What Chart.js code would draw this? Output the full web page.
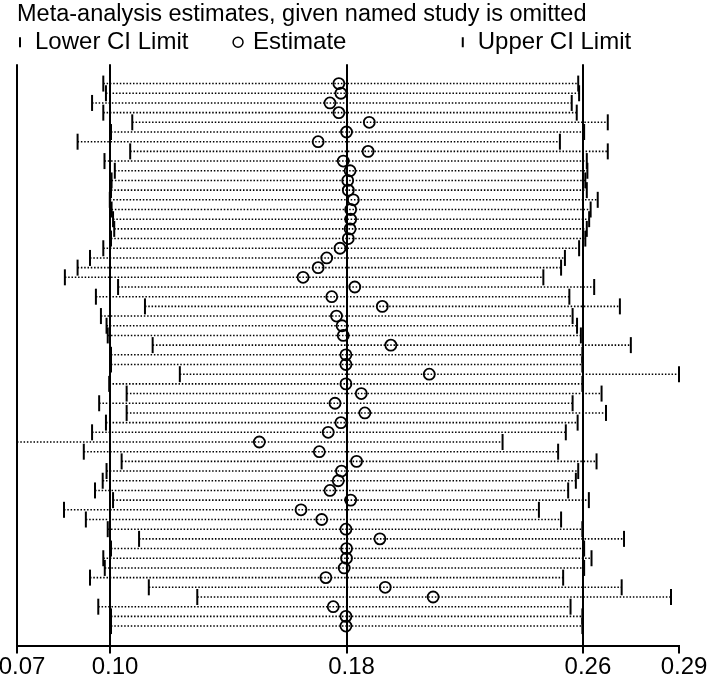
<!DOCTYPE html>
<html>
<head>
<meta charset="utf-8">
<script src="https://cdn.jsdelivr.net/npm/chart.js@4.4.1/dist/chart.umd.min.js"></script>
<style>
    body { margin: 0; background: #fff; }
    #wrap { width: 709px; height: 682px; }
</style>
</head>
<body>
<div id="wrap"><canvas id="chart"></canvas></div>
<script>
// one row per omitted study, top to bottom
const lowerCI = [
    0.0977, 0.0986, 0.0939, 0.0977, 0.1075, 0.1003, 0.0890, 0.1068, 0.0981, 0.1016,
    0.1005, 0.1003, 0.0999, 0.1005, 0.1010, 0.1014, 0.1003, 0.0977, 0.0932, 0.0890,
    0.0847, 0.1027, 0.0952, 0.1118, 0.0969, 0.0988, 0.0992, 0.1144, 0.1003, 0.1003,
    0.1236, 0.0997, 0.1056, 0.0963, 0.1056, 0.0986, 0.0939, 0.0685, 0.0911, 0.1039,
    0.0988, 0.0975, 0.0949, 0.1010, 0.0844, 0.0918, 0.0992, 0.1098, 0.1003, 0.0977,
    0.0982, 0.0932, 0.1131, 0.1295, 0.0960, 0.1003, 0.1003
];
const estimate = [
    0.1774, 0.1781, 0.1744, 0.1774, 0.1877, 0.1800, 0.1704, 0.1873, 0.1789, 0.1812,
    0.1804, 0.1806, 0.1823, 0.1814, 0.1814, 0.1812, 0.1806, 0.1778, 0.1733, 0.1704,
    0.1653, 0.1828, 0.1750, 0.1921, 0.1766, 0.1785, 0.1789, 0.1950, 0.1798, 0.1798,
    0.2080, 0.1798, 0.1850, 0.1761, 0.1862, 0.1781, 0.1738, 0.1505, 0.1708, 0.1834,
    0.1783, 0.1772, 0.1744, 0.1814, 0.1646, 0.1716, 0.1798, 0.1913, 0.1800, 0.1800,
    0.1792, 0.1730, 0.1931, 0.2093, 0.1755, 0.1798, 0.1798
];
const upperCI = [
    0.2584, 0.2587, 0.2562, 0.2579, 0.2684, 0.2604, 0.2522, 0.2684, 0.2613, 0.2615,
    0.2608, 0.2613, 0.2650, 0.2626, 0.2621, 0.2613, 0.2608, 0.2587, 0.2539, 0.2526,
    0.2466, 0.2638, 0.2554, 0.2725, 0.2565, 0.2580, 0.2593, 0.2762, 0.2598, 0.2598,
    0.2925, 0.2598, 0.2663, 0.2565, 0.2678, 0.2582, 0.2542, 0.2328, 0.2516, 0.2646,
    0.2584, 0.2576, 0.2550, 0.2620, 0.2451, 0.2526, 0.2598, 0.2739, 0.2604, 0.2629,
    0.2604, 0.2533, 0.2731, 0.2898, 0.2558, 0.2598, 0.2598
];

const tickValues = [0.0685, 0.10, 0.18, 0.26, 0.2925];
const tickLabels = ['0.07', '0.10', '0.18', '0.26', '0.29'];
const legendText = ['Lower CI Limit       ', 'Estimate                 ', 'Upper CI Limit'];

const FONT = "'Liberation Sans', Arial, sans-serif";

function points(values) {
    return values.map((v, i) => ({ x: v, y: i + 1 }));
}

function ciSegments() {
    const segs = [];
    lowerCI.forEach((lo, i) => {
        segs.push({ x: lo, y: i + 1 }, { x: upperCI[i], y: i + 1 }, { x: null, y: null });
    });
    return segs;
}

const tickMark = {
    pointStyle: 'line',
    pointRotation: 90,
    pointRadius: 8,
    pointHoverRadius: 8,
    pointBorderColor: '#000',
    pointBorderWidth: 2,
    pointBackgroundColor: '#000'
};

new Chart(document.getElementById('chart'), {
    type: 'scatter',
    data: {
        datasets: [
            {
                label: 'Estimate',
                data: points(estimate),
                pointStyle: 'circle',
                pointRadius: 5.5,
                pointHoverRadius: 5.5,
                pointBorderColor: '#000',
                pointBorderWidth: 1.8,
                pointBackgroundColor: 'rgba(0,0,0,0)'
            },
            { label: 'Lower CI Limit', data: points(lowerCI), ...tickMark },
            { label: 'Upper CI Limit', data: points(upperCI), ...tickMark },
            {
                type: 'line',
                label: 'CI',
                data: ciSegments(),
                borderColor: '#000',
                borderWidth: 1.6,
                borderDash: [1.5, 1.8],
                pointRadius: 0,
                spanGaps: false,
                fill: false
            }
        ]
    },
    options: {
        responsive: true,
        maintainAspectRatio: false,
        animation: false,
        events: [],
        clip: false,
        layout: { padding: { left: 17, right: 30, top: 0, bottom: 0 } },
        plugins: {
            tooltip: { enabled: false },
            title: {
                display: true,
                text: 'Meta-analysis estimates, given named study is omitted',
                align: 'start',
                color: '#000',
                font: { family: FONT, size: 23.5, weight: 'normal' },
                padding: { top: 0, bottom: 2 }
            },
            legend: {
                display: true,
                position: 'top',
                align: 'start',
                labels: {
                    usePointStyle: true,
                    boxWidth: 6,
                    boxHeight: 7,
                    padding: 0,
                    color: '#000',
                    font: { family: FONT, size: 24 },
                    generateLabels: () => legendText.map((text, i) => ({
                        text: text,
                        pointStyle: i === 1 ? 'circle' : 'line',
                        rotation: i === 1 ? 0 : 90,
                        fillStyle: i === 1 ? '#fff' : '#000',
                        strokeStyle: '#000',
                        lineWidth: i === 1 ? 1.5 : 2,
                        fontColor: '#000',
                        hidden: false,
                        datasetIndex: i
                    }))
                }
            }
        },
        scales: {
            x: {
                type: 'linear',
                min: tickValues[0],
                max: tickValues[tickValues.length - 1],
                afterBuildTicks: scale => {
                    scale.ticks = tickValues.map(v => ({ value: v }));
                },
                afterFit: scale => {
                    scale.paddingLeft = 0;
                    scale.paddingRight = 0;
                },
                border: { display: true, color: '#000', width: 2 },
                grid: {
                    color: c => (c.index === tickValues.length - 1 ? 'rgba(0,0,0,0)' : '#000'),
                    tickColor: '#000',
                    lineWidth: 2,
                    tickWidth: 2,
                    tickLength: 7,
                    drawTicks: true
                },
                ticks: {
                    autoSkip: false,
                    maxRotation: 0,
                    padding: 3.5,
                    labelOffset: 5,
                    color: '#000',
                    font: { family: FONT, size: 24, lineHeight: 0.9 },
                    callback: (value, index) => tickLabels[index]
                }
            },
            y: {
                type: 'linear',
                display: false,
                reverse: true,
                min: -1,
                max: 59.1
            }
        }
    }
});
</script>
</body>
</html>
